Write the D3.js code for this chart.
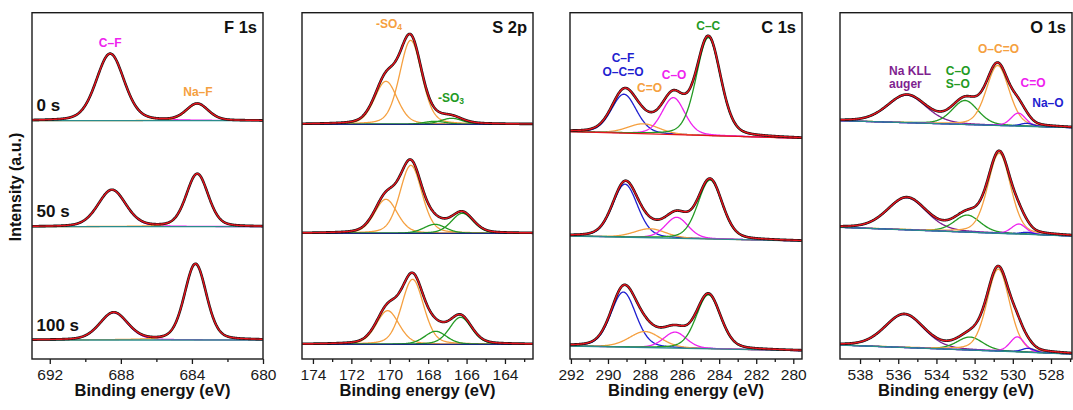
<!DOCTYPE html>
<html>
<head>
<meta charset="utf-8">
<script src="https://cdn.jsdelivr.net/npm/d3@7"></script>
<style>
	body { margin: 0; background: #fff; }
	svg { display: block; font-family: "Liberation Sans", Arial, sans-serif; }
</style>
</head>
<body>
<div id="chart"></div>
<script>
// ---- data (intensity in arbitrary units, 0 = bottom axis) ----
const panelNames = ["F 1s", "S 2p", "C 1s", "O 1s"];
const energyRanges = [[693, 680], [174.57, 162.54], [292.05, 279.53], [539.05, 526.9]];
const majorTicks = [
	[692, 688, 684, 680],
	[174, 172, 170, 168, 166, 164],
	[292, 290, 288, 286, 284, 282, 280],
	[538, 536, 534, 532, 530, 528]
];
const minorTicks = [
	[690, 686, 682],
	[173, 171, 169, 167, 165, 163],
	[291, 289, 287, 285, 283, 281],
	[537, 535, 533, 531, 529, 527]
];
const etchTimes = ["0 s", "50 s", "100 s"];

// background level at high-BE edge / low-BE edge for 0 s, 50 s, 100 s
const f1sBackground = [[238.3, 238.3], [132.3, 132.3], [19, 19]];
const s2pBackground = [[234.7, 234.7], [125.7, 125.7], [14.7, 14.7]];
const c1sBackground = [[227.3, 220.7], [123, 118], [13, 8.3]];
const o1sBackground = [[238.3, 231.3], [131.7, 123], [14, 5]];

// fitted components: centre (eV), height, FWHM for 0 s, 50 s, 100 s
const f1sPeaks = [
	{ name: "C–F", center: [688.6, 688.5, 688.4], height: [67, 36.7, 27.3], fwhm: 1.85 },
	{ name: "Na–F", center: [683.7, 683.7, 683.8], height: [16.7, 52.7, 76], fwhm: 1.45 }
];
const s2pPeaks = [
	{ name: "-SO4 a", center: [170.2, 170.2, 170.11], height: [43, 34, 33.6], fwhm: 1.4 },
	{ name: "-SO4 b", center: [168.91, 168.9, 168.81], height: [84, 68, 65], fwhm: 1.35 },
	{ name: "-SO3 a", center: [167.65, 167.65, 167.61], height: [3, 9, 13], fwhm: 1.35 },
	{ name: "-SO3 b", center: [166.78, 166.22, 166.31], height: [6, 20, 27], fwhm: 1.35 }
];
const c1sPeaks = [
	{ name: "C–F / O–C=O", center: [289.14, 289.08, 289.17], height: [39, 53, 55], fwhm: 1.6 },
	{ name: "C=O", center: [288.09, 287.73, 288.0], height: [10, 9, 16], fwhm: 2.0 },
	{ name: "C–O", center: [286.47, 286.29, 286.38], height: [37, 21, 16], fwhm: 1.45 },
	{ name: "C–C", center: [284.58, 284.49, 284.58], height: [98, 59, 54], fwhm: 1.55 }
];
const o1sPeaks = [
	{ name: "Na KLL", center: [535.55, 535.55, 535.68], height: [27.5, 32, 33], fwhm: 2.4 },
	{ name: "C–O / S–O", center: [532.5, 532.38, 532.24], height: [24, 17, 13], fwhm: 1.6 },
	{ name: "O–C=O", center: [530.79, 530.71, 530.76], height: [60, 80, 82], fwhm: 1.4 },
	{ name: "C=O", center: [529.71, 529.68, 529.76], height: [13, 10, 15], fwhm: 0.9 },
	{ name: "Na–O", center: [529.27, 529.26, 529.19], height: [3, 2, 4], fwhm: 0.8 }
];

// ---- styling ----
const MAGENTA = "#ee22ee", ORANGE = "#f5a040", GREEN = "#239a23", BLUE = "#1f1fd0",
	PURPLE = "#7f1f8f", RED = "#e8141e", TEAL = "#2a8c8c", NAVY = "#1a2a80";
const ETA = 0.25; // Lorentzian fraction of the pseudo-Voigt line shape

const backgrounds = [f1sBackground, s2pBackground, c1sBackground, o1sBackground];
const peaks = [f1sPeaks, s2pPeaks, c1sPeaks, o1sPeaks];
const peakColors = [
	[MAGENTA, ORANGE],
	[ORANGE, ORANGE, GREEN, GREEN],
	[BLUE, ORANGE, MAGENTA, GREEN],
	[PURPLE, GREEN, ORANGE, MAGENTA, BLUE]
];
const baseColors = [
	[TEAL, TEAL, TEAL],
	[NAVY, NAVY, NAVY],
	[RED, TEAL, TEAL],
	[TEAL, TEAL, TEAL]
];

// peak annotations: [text, energy, intensity, colour, anchor]
const peakLabels = [
	[["C–F", 688.6, 312.3, MAGENTA, "middle"], ["Na–F", 683.66, 263, ORANGE, "middle"]],
	[["-SO|4", 170.04, 330.7, ORANGE, "middle"], ["-SO|3", 167.49, 257.3, GREEN, "start"]],
	[["C–F", 289.19, 296.7, BLUE, "middle"], ["O–C=O", 289.19, 283, BLUE, "middle"],
	 ["C=O", 287.76, 267.3, ORANGE, "middle"], ["C–O", 286.43, 279.7, MAGENTA, "middle"],
	 ["C–C", 284.59, 329, GREEN, "middle"]],
	[["Na KLL", 536.48, 284, PURPLE, "start"], ["auger", 536.48, 271, PURPLE, "start"],
	 ["C–O", 533.51, 284, GREEN, "start"], ["S–O", 533.51, 271, GREEN, "start"],
	 ["O–C=O", 530.75, 305.7, ORANGE, "middle"], ["C=O", 528.94, 272, MAGENTA, "middle"],
	 ["Na–O", 528.16, 251.7, BLUE, "middle"]]
];

const WIDTH = 1073, HEIGHT = 410;
const PANEL_LEFT = [32, 302, 570, 840];
const PANEL_RIGHT = [263, 533, 802, 1072];
const PLOT_TOP = 12.7, PLOT_BOTTOM = 359;

const svg = d3.select("#chart").append("svg")
	.attr("width", WIDTH)
	.attr("height", HEIGHT);

const pseudoVoigt = (e, c, h, w) => {
	const d = (e - c) / w;
	return h * ((1 - ETA) * Math.exp(-4 * Math.LN2 * d * d) + ETA / (1 + 4 * d * d));
};

panelNames.forEach((name, i) => {
	const dom = energyRanges[i];
	const x = d3.scaleLinear().domain(dom).range([PANEL_LEFT[i], PANEL_RIGHT[i]]);
	const y = d3.scaleLinear().domain([0, 346.3]).range([PLOT_BOTTOM, PLOT_TOP]);
	const energies = d3.range(0, 601).map((k) => dom[0] + (k / 600) * (dom[1] - dom[0]));

	svg.append("clipPath").attr("id", "clip" + i)
		.append("rect")
		.attr("x", x(dom[0])).attr("y", y(346.3))
		.attr("width", x(dom[1]) - x(dom[0]))
		.attr("height", y(0) - y(346.3));

	const plot = svg.append("g").attr("clip-path", `url(#clip${i})`);
	const line = d3.line().x((d) => x(d[0])).y((d) => y(d[1]));

	backgrounds[i].forEach((bg, s) => {
		const base = (e) => bg[0] + (bg[1] - bg[0]) * (e - dom[0]) / (dom[1] - dom[0]);
		const total = (e) => base(e) + d3.sum(peaks[i], (p) => pseudoVoigt(e, p.center[s], p.height[s], p.fwhm));

		peaks[i].forEach((p, k) => {
			plot.append("path")
				.attr("d", line(energies.map((e) => [e, base(e) + pseudoVoigt(e, p.center[s], p.height[s], p.fwhm)])))
				.attr("fill", "none")
				.attr("stroke", peakColors[i][k])
				.attr("stroke-width", 1.3);
		});
		plot.append("path")
			.attr("d", line([[dom[0], bg[0]], [dom[1], bg[1]]]))
			.attr("fill", "none")
			.attr("stroke", baseColors[i][s])
			.attr("stroke-width", 1.3);
		const envelope = energies.map((e) => [e, total(e)]);
		plot.append("path")
			.attr("d", line(envelope))
			.attr("fill", "none")
			.attr("stroke", "#111")
			.attr("stroke-width", 2.6);
		plot.append("path")
			.attr("d", line(envelope))
			.attr("fill", "none")
			.attr("stroke", RED)
			.attr("stroke-width", 1.4);

		if (i === 0) {
			svg.append("text")
				.attr("x", 36.5)
				.attr("y", y(bg[0]) - 9.5)
				.attr("font-size", "17px")
				.attr("font-weight", "bold")
				.attr("fill", "#111")
				.text(etchTimes[s]);
		}
	});

	// peak annotations
	peakLabels[i].forEach(([txt, e, v, color, anchor]) => {
		const t = svg.append("text")
			.attr("x", x(e))
			.attr("y", y(v))
			.attr("text-anchor", anchor)
			.attr("font-size", "12px")
			.attr("font-weight", "bold")
			.attr("fill", color);
		const parts = txt.split("|");
		t.append("tspan").text(parts[0]);
		if (parts[1]) {
			t.append("tspan").attr("font-size", "8.5px").attr("dy", 2).text(parts[1]);
		}
	});

	// frame
	svg.append("rect")
		.attr("x", x(dom[0]))
		.attr("y", y(346.3))
		.attr("width", x(dom[1]) - x(dom[0]))
		.attr("height", y(0) - y(346.3))
		.attr("fill", "none")
		.attr("stroke", "#1a1a1a")
		.attr("stroke-width", 1.4);

	// axes
	const majorAxis = d3.axisBottom(x).tickValues(majorTicks[i]).tickSize(5).tickSizeOuter(0)
		.tickPadding(5).tickFormat(d3.format("d"));
	const minorAxis = d3.axisBottom(x).tickValues(minorTicks[i]).tickSize(3).tickSizeOuter(0).tickFormat("");
	const gMajor = svg.append("g").attr("transform", `translate(0,${PLOT_BOTTOM})`).call(majorAxis);
	const gMinor = svg.append("g").attr("transform", `translate(0,${PLOT_BOTTOM})`).call(minorAxis);
	[gMajor, gMinor].forEach((g) => {
		g.select(".domain").remove();
		g.selectAll("line").attr("stroke", "#1a1a1a").attr("stroke-width", 1.3);
	});
	gMajor.selectAll("text")
		.attr("font-family", "Liberation Sans, Arial, sans-serif")
		.attr("font-size", "15.5px")
		.attr("fill", "#1a1a1a");

	svg.append("text")
		.attr("x", (PANEL_LEFT[i] + PANEL_RIGHT[i]) / 2 + (i === 0 ? 5 : 0))
		.attr("y", 396)
		.attr("text-anchor", "middle")
		.attr("font-size", "16.5px")
		.attr("font-weight", "bold")
		.attr("fill", "#111")
		.text("Binding energy (eV)");

	svg.append("text")
		.attr("x", PANEL_RIGHT[i] - 6)
		.attr("y", 33)
		.attr("text-anchor", "end")
		.attr("font-size", "16.5px")
		.attr("font-weight", "bold")
		.attr("fill", "#111")
		.text(name);
});

svg.append("text")
	.attr("transform", "translate(21,187) rotate(-90)")
	.attr("text-anchor", "middle")
	.attr("font-size", "16px")
	.attr("font-weight", "bold")
	.attr("fill", "#111")
	.text("Intensity (a.u.)");
</script>
</body>
</html>
